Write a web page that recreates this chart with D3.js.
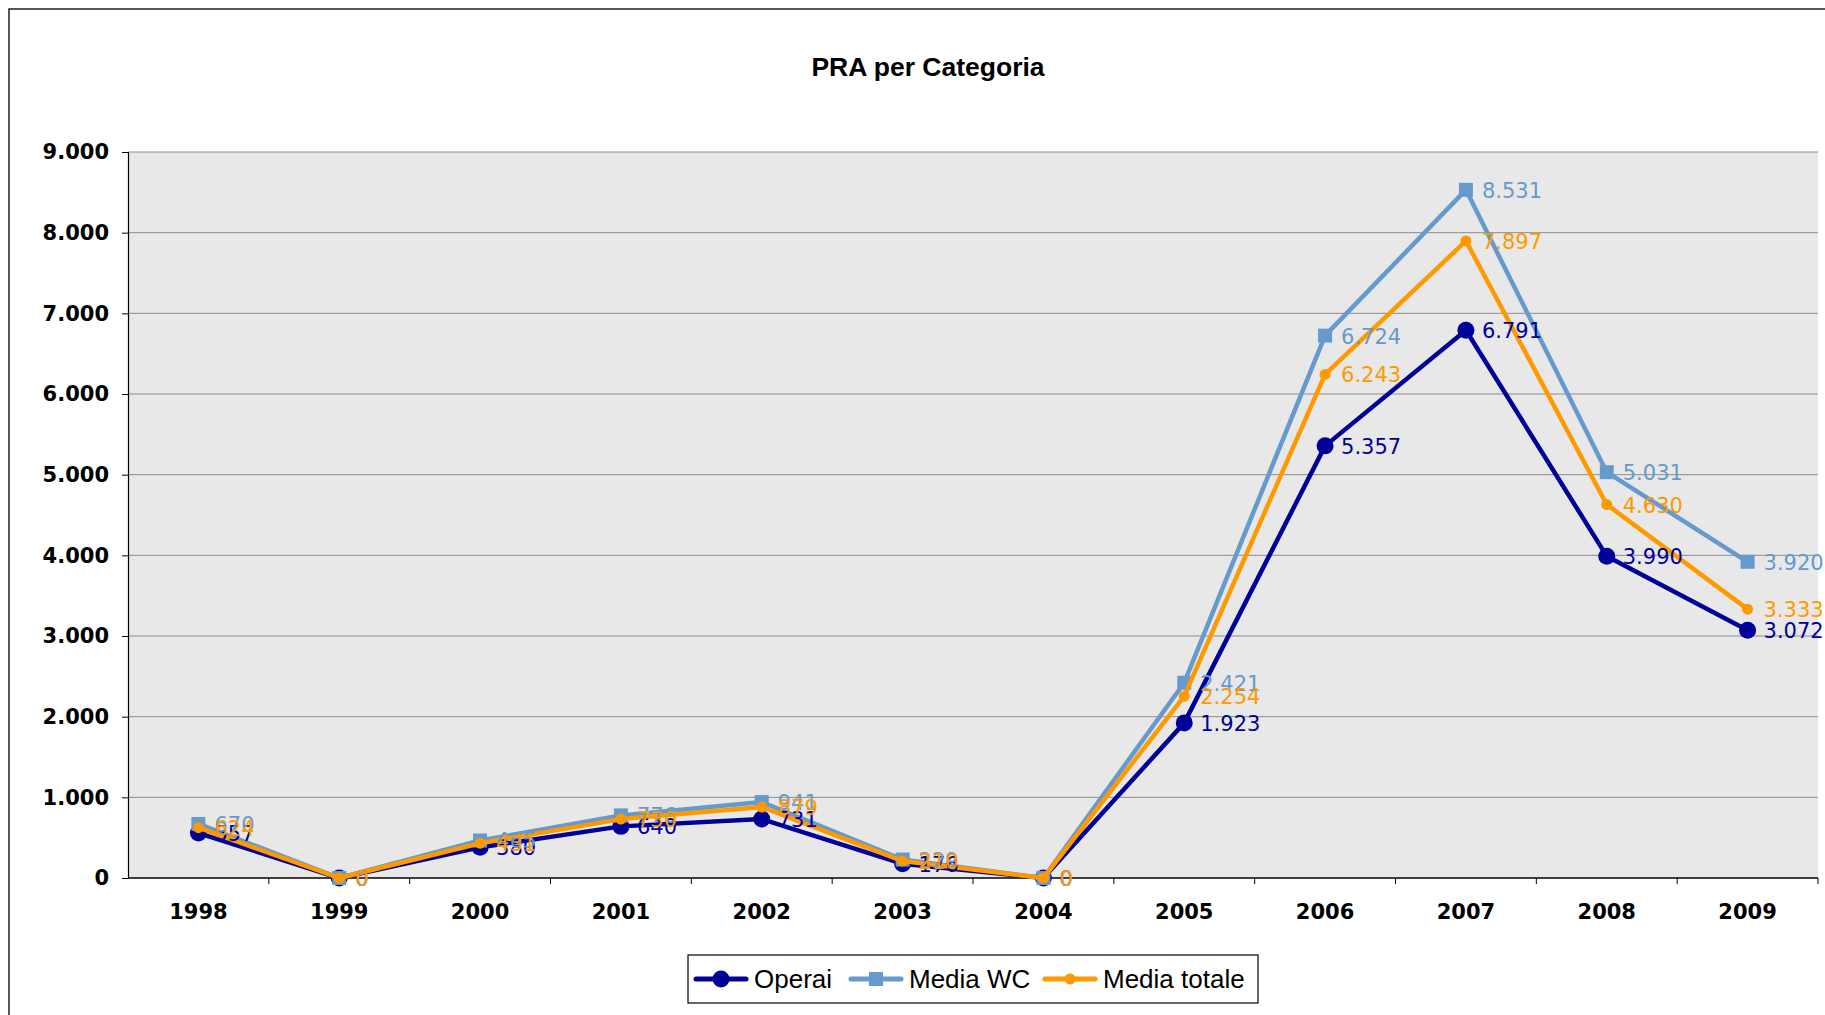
<!DOCTYPE html>
<html>
<head>
<meta charset="utf-8">
<script src="https://cdn.jsdelivr.net/npm/d3@7"></script>
<style>
  body { margin: 0; background: #fff; }
  svg { display: block; }
</style>
</head>
<body>
<div id="chart"></div>
<script>
// data
const years = ['1998', '1999', '2000', '2001', '2002', '2003', '2004', '2005', '2006', '2007', '2008', '2009']
const operai = [557, 0, 380, 640, 731, 176, 0, 1923, 5357, 6791, 3990, 3072]
const mediaWC = [670, 0, 465, 776, 941, 229, 0, 2421, 6724, 8531, 5031, 3920]
const mediaTotale = [624, 0, 431, 730, 879, 210, 0, 2254, 6243, 7897, 4630, 3333]
const yTicks = [0, 1000, 2000, 3000, 4000, 5000, 6000, 7000, 8000, 9000]

const series = [
    { name: 'Operai', values: operai, color: '#000099', marker: 'bigdot' },
    { name: 'Media WC', values: mediaWC, color: '#6699cc', marker: 'square' },
    { name: 'Media totale', values: mediaTotale, color: '#ff9900', marker: 'dot' }
]

const width = 1825
const height = 1015
const margin = { top: 152, right: 7, bottom: 137, left: 128 }
const fmt = v => d3.format(',')(v).replace(/,/g, '.')

const svg = d3.select('#chart').append('svg')
    .attr('width', width)
    .attr('height', height)

// outer chart frame
svg.append('rect')
    .attr('x', 9).attr('y', 9)
    .attr('width', width + 20).attr('height', height + 20)
    .attr('fill', 'none')
    .attr('stroke', '#222')
    .attr('stroke-width', 1.5)

svg.append('text')
    .attr('x', 928).attr('y', 76)
    .attr('text-anchor', 'middle')
    .attr('font-family', 'Liberation Sans, Arial, sans-serif')
    .attr('font-weight', 'bold')
    .attr('font-size', 26.5)
    .attr('fill', '#000')
    .text('PRA per Categoria')

const x = d3.scaleBand()
    .domain(years)
    .range([margin.left, width - margin.right])

const y = d3.scaleLinear()
    .domain([0, 9000])
    .range([height - margin.bottom, margin.top])

// plot area background
svg.append('rect')
    .attr('x', margin.left)
    .attr('y', margin.top)
    .attr('width', width - margin.right - margin.left)
    .attr('height', y(0) - margin.top)
    .attr('fill', '#e8e8e8')

// gridlines
svg.append('g')
    .selectAll('line')
    .data(yTicks.filter(d => d > 0))
    .join('line')
    .attr('x1', margin.left)
    .attr('x2', width - margin.right)
    .attr('y1', d => y(d))
    .attr('y2', d => y(d))
    .attr('stroke', '#8c8c8c')
    .attr('stroke-width', 1)

// y axis
const yAxis = svg.append('g')
    .attr('transform', `translate(${margin.left},0)`)
    .call(d3.axisLeft(y).tickValues(yTicks).tickFormat(fmt).tickSize(6).tickPadding(13))
yAxis.select('.domain').attr('stroke', '#000').attr('stroke-width', 1.2)
yAxis.selectAll('.tick line').attr('stroke', '#000')
yAxis.selectAll('text')
    .attr('font-family', 'DejaVu Sans, Verdana, sans-serif')
    .attr('font-weight', 'bold')
    .attr('font-size', 21)
    .attr('fill', '#000')

// x axis: ticks between the categories
const xAxis = svg.append('g')
    .attr('transform', `translate(0,${y(0)})`)
xAxis.append('line')
    .attr('x1', margin.left).attr('x2', width - margin.right)
    .attr('stroke', '#000').attr('stroke-width', 1.5)
xAxis.selectAll('line.tk')
    .data(years.slice(1).concat(['end']))
    .join('line')
    .attr('class', 'tk')
    .attr('x1', (d, i) => margin.left + x.step() * (i + 1))
    .attr('x2', (d, i) => margin.left + x.step() * (i + 1))
    .attr('y1', 0).attr('y2', 6)
    .attr('stroke', '#000')
xAxis.selectAll('text')
    .data(years)
    .join('text')
    .attr('x', d => x(d) + x.bandwidth() / 2)
    .attr('y', 41)
    .attr('text-anchor', 'middle')
    .attr('font-family', 'DejaVu Sans, Verdana, sans-serif')
    .attr('font-weight', 'bold')
    .attr('font-size', 21)
    .attr('fill', '#000')
    .text(d => d)

const cx = (d, i) => x(years[i]) + x.bandwidth() / 2
const line = d3.line().x(cx).y(d => y(d))

function drawMarker(g, s, px, py) {
    if (s.marker === 'square') {
        g.append('rect').attr('x', px - 7).attr('y', py - 7)
            .attr('width', 14).attr('height', 14).attr('fill', s.color)
    } else {
        g.append('circle').attr('cx', px).attr('cy', py)
            .attr('r', s.marker === 'bigdot' ? 8.5 : 5.5).attr('fill', s.color)
    }
}

series.forEach(s => {
    const g = svg.append('g').attr('class', 'series')
    g.append('path')
        .datum(s.values)
        .attr('d', line)
        .attr('fill', 'none')
        .attr('stroke', s.color)
        .attr('stroke-width', 4.5)
        .attr('stroke-linejoin', 'round')
    s.values.forEach((v, i) => drawMarker(g, s, cx(v, i), y(v)))
})

// data labels on top
series.forEach(s => {
    svg.append('g')
        .selectAll('text')
        .data(s.values)
        .join('text')
        .attr('x', (d, i) => cx(d, i) + 16)
        .attr('y', d => y(d) + 8)
        .attr('font-family', 'DejaVu Sans, Verdana, sans-serif')
        .attr('font-size', 21)
        .attr('fill', s.color)
        .text(d => fmt(d))
})

// legend
const legend = svg.append('g')
legend.append('rect')
    .attr('x', 688).attr('y', 955)
    .attr('width', 570).attr('height', 48)
    .attr('fill', '#fff')
    .attr('stroke', '#000')
    .attr('stroke-width', 1.2)
const legendX = [696, 851, 1045]
series.forEach((s, i) => {
    const lg = legend.append('g')
    const x0 = legendX[i]
    lg.append('line')
        .attr('x1', x0).attr('x2', x0 + 50)
        .attr('y1', 979).attr('y2', 979)
        .attr('stroke', s.color).attr('stroke-width', 5)
        .attr('stroke-linecap', 'round')
    drawMarker(lg, s, x0 + 25, 979)
    lg.append('text')
        .attr('x', x0 + 58).attr('y', 988)
        .attr('font-family', 'Liberation Sans, Arial, sans-serif')
        .attr('font-size', 26)
        .attr('fill', '#000')
        .text(s.name)
})
</script>
</body>
</html>
